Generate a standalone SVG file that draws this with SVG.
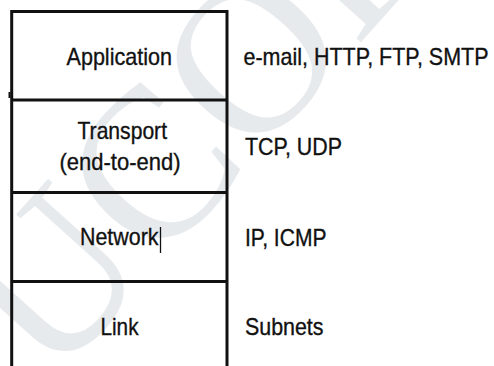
<svg xmlns="http://www.w3.org/2000/svg" width="494" height="366" viewBox="0 0 494 366">
  <style>
    .wm { font-family: "Liberation Serif", "Times New Roman", serif; font-size: 215px; fill: #e7eaed; }
    .lbl { font-family: "Liberation Sans", Arial, sans-serif; font-size: 24px; fill: #111; stroke: #111; stroke-width: 0.35; }
    .ln { stroke: #111; stroke-width: 3; fill: none; }
  </style>
  <rect width="494" height="366" fill="#ffffff"/>
  <g id="watermark">
    <text class="wm" x="52" y="385" transform="rotate(-48 52 385)">UCOR</text>
  </g>
  <g id="connectors">
    <path class="ln" d="M11.7 368 V11.5 H227 V368"/>
    <rect x="8.5" y="92" width="2" height="6" fill="#111"/>
  </g>
  <g id="application">
    <path class="ln" d="M11.7 100 H227"/>
    <text class="lbl" x="66.5" y="65" textLength="105.5" lengthAdjust="spacingAndGlyphs">Application</text>
    <text class="lbl" x="243.5" y="65" textLength="245" lengthAdjust="spacingAndGlyphs">e-mail, HTTP, FTP, SMTP</text>
  </g>
  <g id="transport">
    <path class="ln" d="M11.7 192.5 H227"/>
    <text class="lbl" x="77.5" y="139" textLength="89.5" lengthAdjust="spacingAndGlyphs">Transport</text>
    <text class="lbl" x="59.5" y="170" textLength="121" lengthAdjust="spacingAndGlyphs">(end-to-end)</text>
    <text class="lbl" x="245" y="154.5" textLength="97" lengthAdjust="spacingAndGlyphs">TCP, UDP</text>
  </g>
  <g id="network">
    <path class="ln" d="M11.7 281.5 H227"/>
    <text class="lbl" x="80" y="245" textLength="78.5" lengthAdjust="spacingAndGlyphs">Network</text>
    <line x1="160.5" y1="227" x2="160.5" y2="253" stroke="#111" stroke-width="1.3"/>
    <text class="lbl" x="245" y="246" textLength="81.5" lengthAdjust="spacingAndGlyphs">IP, ICMP</text>
  </g>
  <g id="link">
    <text class="lbl" x="100.5" y="334.5" textLength="38" lengthAdjust="spacingAndGlyphs">Link</text>
    <text class="lbl" x="245" y="334.5" textLength="78.5" lengthAdjust="spacingAndGlyphs">Subnets</text>
  </g>
</svg>
